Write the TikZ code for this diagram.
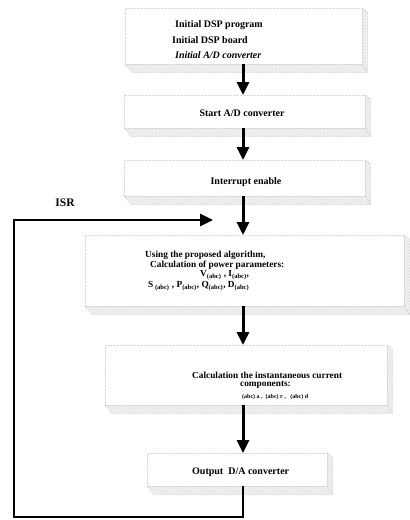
\documentclass[tikz,border=0pt]{standalone}
\usepackage{fontspec}
\setmainfont{Liberation Serif}
\usetikzlibrary{arrows.meta}
\begin{document}
\begin{tikzpicture}[x=1pt,y=-1pt,
  face/.style={draw=gray!30, densely dotted, line width=0.4pt, inner sep=0pt, anchor=north west},
  bevel/.style={fill=gray!15, draw=gray!60, densely dotted, line width=0.5pt},
  lbl/.style={font=\bfseries\fontsize{10}{11}\selectfont, inner sep=0pt, anchor=west},
  lblsm/.style={font=\bfseries\fontsize{9.3}{10}\selectfont, inner sep=0pt, anchor=west},
  lbltiny/.style={font=\bfseries\fontsize{6}{7}\selectfont, inner sep=0pt, anchor=west},
  flow/.style={line width=3pt, -{Triangle[length=13pt,width=12pt]}},
  loopline/.style={line width=2.8pt, -{Triangle[length=13pt,width=12pt]}},
]
\useasboundingbox (0,0) rectangle (410,520);

% boxes
\node[face, minimum width=237pt, minimum height=56pt] (b1) at (125,8) {};
\node[face, minimum width=241pt, minimum height=33pt] (b2) at (124,95) {};
\node[face, minimum width=241pt, minimum height=36pt] (b3) at (124,160) {};
\node[face, minimum width=319pt, minimum height=71pt] (b4) at (85,235) {};
\node[face, minimum width=282pt, minimum height=60pt] (b5) at (105,345) {};
\node[face, minimum width=180pt, minimum height=33pt] (b6) at (147,453) {};

\foreach \n in {b1,b2,b3,b4,b5,b6}{
  \draw[bevel] (\n.south west) -- ([shift={(7,8)}]\n.south west)
     -- ([shift={(5,8)}]\n.south east) -- ([shift={(5,4)}]\n.north east)
     -- (\n.north east) -- (\n.south east) -- cycle;
  \draw[draw=gray!60, densely dotted, line width=0.5pt] (\n.south east) -- ([shift={(5,8)}]\n.south east);
}

% texts
\node[lbl] (t1a) at (175,25) {Initial DSP program};
\node[lbl] (t1b) at (172,40) {Initial DSP board};
\node[lbl, font=\bfseries\itshape\fontsize{10}{11}\selectfont] (t1c) at (175,55) {Initial A/D converter};
\node[lbl, anchor=center] (t2) at (242,113) {Start A/D converter};
\node[lbl, anchor=center] (t3) at (246,182) {Interrupt enable};
\node[lblsm] (t4a) at (145,255) {Using the proposed algorithm,};
\node[lblsm] (t4b) at (150,265) {Calculation of power parameters:};
\node[lblsm] (t4c) at (200,275) {V\textsubscript{(abc)} , I\textsubscript{(abc)},};
\node[lblsm] (t4d) at (148,286) {S\textsubscript{ (abc)} , P\textsubscript{(abc)}, Q\textsubscript{(abc)}, D\textsubscript{(abc)}};
\node[lblsm] (t5a) at (192,375) {Calculation the instantaneous current};
\node[lblsm] (t5b) at (240,385) {components:};
\node[lbltiny] (t5c) at (242,397) {(abc) a ,\ \ (abc) r ,\ \ \ (abc) d};
\node[lbl] (t6) at (192,472) {Output\ \ D/A converter};
\node[font=\bfseries\fontsize{11.5}{12}\selectfont, inner sep=0pt] (isr) at (65,203) {ISR};

% arrows
\coordinate (ax) at (243,0);
\draw[flow] (b1.south -| ax) -- (b2.north -| ax);
\draw[flow] (b2.south -| ax) -- (b3.north -| ax);
\draw[flow] (b3.south -| ax) -- (b4.north -| ax);
\draw[flow] (b4.south -| ax) -- (b5.north -| ax);
\draw[flow] (b5.south -| ax) -- (b6.north -| ax);

\coordinate (c1) at (243,517);
\coordinate (c2) at (14,517);
\coordinate (c3) at (14,220);
\coordinate (isrend) at (213,220);
\draw[loopline] (b6.south -| ax) -- (c1) -- (c2) -- (c3) -- (isrend);
\end{tikzpicture}
\end{document}
